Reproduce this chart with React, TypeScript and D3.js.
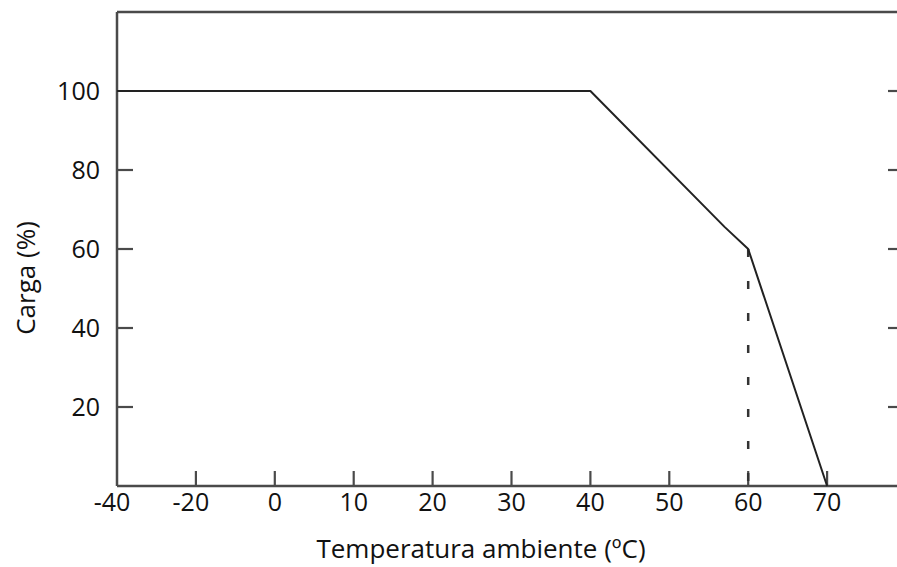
import React from "react";
import * as d3 from "d3";

const xTickValues = [-40, -20, 0, 10, 20, 30, 40, 50, 60, 70];
const xTickLabels = ["-40", "-20", "0", "10", "20", "30", "40", "50", "60", "70"];
const yTickValues = [20, 40, 60, 80, 100];
const yTickLabels = ["20", "40", "60", "80", "100"];
const curveTemps = [-40, 40, 57, 60, 70];
const curveLoads = [100, 100, 65.6, 60, 0];
const dashTemps = [60, 60];
const dashLoads = [60, 0];

const W = 897;
const H = 567;
const LEFT = 117;
const STEP = 78.9;
const RIGHT = 898;
const TOP = 12;
const BOTTOM = 486;

export default function App() {
  const x = d3
    .scaleLinear()
    .domain([-40, 0, 70])
    .range([LEFT, LEFT + 2 * STEP, LEFT + 9 * STEP]);
  const y = d3.scaleLinear().domain([0, 120]).range([BOTTOM, TOP]);

  const line = d3
    .line<[number, number]>()
    .x((d) => x(d[0]))
    .y((d) => y(d[1]));
  const curve: [number, number][] = curveTemps.map((t, i) => [t, curveLoads[i]]);
  const dash: [number, number][] = dashTemps.map((t, i) => [t, dashLoads[i]]);

  const font = "'Open Sans', 'Noto Sans', sans-serif";
  const axisColor = "#4a4a4a";

  return (
    <svg
      width={W}
      height={H}
      style={{ position: "absolute", left: 0, top: 0, background: "#fff" }}
      fontFamily={font}
    >
      {/* frame */}
      <line x1={LEFT} x2={RIGHT} y1={TOP} y2={TOP} stroke={axisColor} strokeWidth={2.5} />
      <line x1={LEFT} x2={LEFT} y1={TOP} y2={BOTTOM} stroke={axisColor} strokeWidth={2.5} />
      <line x1={LEFT} x2={RIGHT} y1={BOTTOM} y2={BOTTOM} stroke={axisColor} strokeWidth={2.5} />

      {/* y ticks */}
      {yTickValues.map((v, i) => (
        <g key={"y" + v}>
          {v !== 100 && (
            <line x1={LEFT} x2={LEFT + 16} y1={y(v)} y2={y(v)} stroke={axisColor} strokeWidth={2.2} />
          )}
          <line x1={RIGHT - 10} x2={RIGHT} y1={y(v)} y2={y(v)} stroke={axisColor} strokeWidth={2.2} />
          <text
            x={100}
            y={y(v)}
            dy="0.36em"
            textAnchor="end"
            fontSize={25}
            fill="#111"
          >
            {yTickLabels[i]}
          </text>
        </g>
      ))}

      {/* x ticks */}
      {xTickValues.map((v, i) => (
        <g key={"x" + v}>
          {v !== -40 && (
            <line x1={x(v)} x2={x(v)} y1={BOTTOM} y2={BOTTOM - 15} stroke={axisColor} strokeWidth={2.2} />
          )}
          <text
            x={x(v)}
            y={511}
            dx={xTickLabels[i].startsWith("-") ? -5 : 0}
            textAnchor="middle"
            fontSize={25}
            fill="#111"
          >
            {xTickLabels[i]}
          </text>
        </g>
      ))}

      {/* dashed guide */}
      <path
        d={line(dash) || ""}
        fill="none"
        stroke="#333"
        strokeWidth={2.5}
        strokeDasharray="8,24"
      />

      {/* derating curve */}
      <path d={line(curve) || ""} fill="none" stroke="#222" strokeWidth={2} strokeLinejoin="round" />

      {/* axis titles */}
      <text x={481} y={558} textAnchor="middle" fontSize={26} fill="#111">
        Temperatura ambiente (ºC)
      </text>
      <text
        transform={`translate(35, 278) rotate(-90)`}
        textAnchor="middle"
        fontSize={26}
        fill="#111"
      >
        Carga (%)
      </text>
    </svg>
  );
}
